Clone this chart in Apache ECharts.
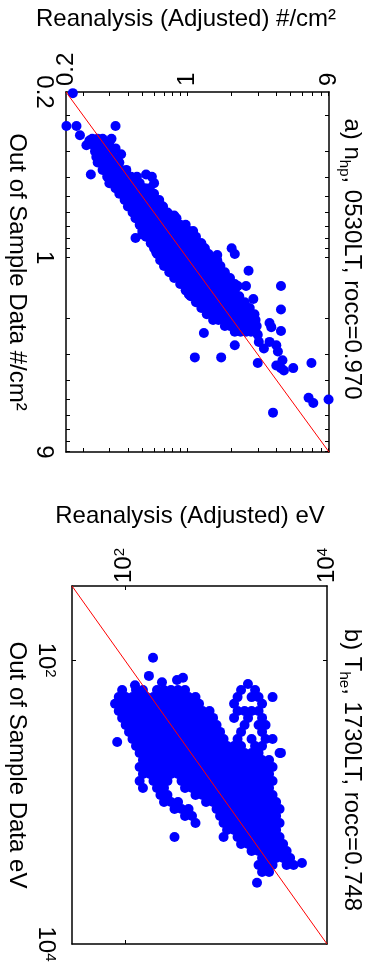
<!DOCTYPE html>
<html>
<head>
<meta charset="utf-8">
<script src="https://cdn.jsdelivr.net/npm/echarts@6/dist/echarts.min.js"></script>
<style>
  html, body { margin: 0; padding: 0; background: #fff; }
  #chart { width: 377px; height: 963px; }
</style>
</head>
<body>
<div id="chart"></div>
<script>
// ---- panel a) n_hp, 0530LT (#/cm^2) ----
const rangeA = [0.153, 9.06];
const labelValsA = [0.153, 1, 9.06];
const labelTextA = ['0.2', '1', '9'];
const tickValsA = [0.2, 0.3, 0.4, 0.5, 0.6, 0.7, 0.8, 0.9, 1, 2, 3, 4, 5, 6, 7, 8, 9];
// dense band, one row per out-of-sample value: [outOfSample, reanalysis...]
const bandA = [
  [0.26, 0.23, 0.25, 0.27],
  [0.28, 0.235, 0.255, 0.28, 0.3],
  [0.30, 0.24, 0.26, 0.285, 0.31],
  [0.32, 0.245, 0.27, 0.295, 0.32],
  [0.34, 0.25, 0.275, 0.3, 0.33, 0.35],
  [0.37, 0.27, 0.3, 0.33, 0.36, 0.39],
  [0.40, 0.29, 0.32, 0.35, 0.38, 0.42, 0.46],
  [0.43, 0.3, 0.33, 0.36, 0.4, 0.44, 0.48],
  [0.455, 0.33, 0.36, 0.4, 0.44, 0.48, 0.52, 0.56],
  [0.485, 0.35, 0.38, 0.42, 0.46, 0.5, 0.55, 0.6],
  [0.52, 0.38, 0.42, 0.46, 0.5, 0.55, 0.6, 0.65],
  [0.56, 0.4, 0.44, 0.48, 0.53, 0.58, 0.63, 0.69],
  [0.60, 0.43, 0.47, 0.52, 0.57, 0.62, 0.68, 0.74],
  [0.64, 0.45, 0.5, 0.55, 0.6, 0.66, 0.72, 0.78, 0.85],
  [0.69, 0.48, 0.53, 0.58, 0.64, 0.7, 0.76, 0.83, 0.9, 0.98],
  [0.74, 0.5, 0.55, 0.6, 0.66, 0.72, 0.79, 0.86, 0.94, 1.03, 1.1],
  [0.79, 0.53, 0.58, 0.64, 0.7, 0.76, 0.83, 0.9, 0.98, 1.07, 1.15],
  [0.85, 0.57, 0.62, 0.68, 0.74, 0.81, 0.88, 0.96, 1.05, 1.15, 1.25],
  [0.90, 0.6, 0.66, 0.72, 0.79, 0.86, 0.94, 1.02, 1.11, 1.21, 1.32],
  [0.96, 0.63, 0.69, 0.75, 0.82, 0.9, 0.98, 1.07, 1.17, 1.28, 1.4],
  [1.03, 0.66, 0.72, 0.79, 0.86, 0.94, 1.03, 1.12, 1.22, 1.34, 1.46, 1.6],
  [1.10, 0.7, 0.77, 0.84, 0.92, 1.0, 1.09, 1.19, 1.3, 1.42, 1.55, 1.68],
  [1.18, 0.76, 0.83, 0.9, 0.98, 1.07, 1.17, 1.27, 1.39, 1.52, 1.65, 1.8],
  [1.26, 0.82, 0.89, 0.97, 1.06, 1.16, 1.26, 1.37, 1.5, 1.63, 1.78, 1.95],
  [1.35, 0.9, 0.98, 1.07, 1.16, 1.27, 1.38, 1.5, 1.63, 1.78, 1.94, 2.1],
  [1.45, 0.98, 1.07, 1.16, 1.27, 1.38, 1.5, 1.63, 1.78, 1.94, 2.1],
  [1.55, 1.06, 1.16, 1.26, 1.37, 1.5, 1.63, 1.78, 1.94, 2.1, 2.25],
  [1.66, 1.15, 1.25, 1.36, 1.48, 1.62, 1.76, 1.92, 2.08, 2.25, 2.45],
  [1.77, 1.25, 1.36, 1.48, 1.61, 1.75, 1.9, 2.07, 2.25, 2.45, 2.65],
  [1.90, 1.36, 1.48, 1.61, 1.75, 1.9, 2.07, 2.25, 2.45, 2.65, 2.85],
  [2.03, 1.5, 1.63, 1.78, 1.94, 2.1, 2.28, 2.48, 2.7, 2.9],
  [2.17, 1.8, 1.95, 2.12, 2.3, 2.5, 2.72, 2.95],
  [2.32, 2.1, 2.3, 2.5, 2.7, 2.9]
];
// scattered points: [reanalysis, outOfSample]
const outA = [
  [0.17, 0.155], [0.154, 0.225], [0.18, 0.225], [0.33, 0.225], [0.19, 0.25],
  [0.22, 0.265], [0.23, 0.27], [0.21, 0.28], [0.31, 0.26], [0.33, 0.29],
  [0.36, 0.31], [0.225, 0.39], [0.53, 0.39], [0.58, 0.40], [0.6, 0.43],
  [0.58, 0.5], [0.66, 0.55], [0.82, 0.62], [0.45, 0.8], [0.5, 0.77],
  [0.62, 0.94], [1.0, 0.77], [1.24, 0.85], [1.6, 0.97], [2.0, 0.9],
  [2.1, 0.96], [2.6, 1.16], [2.2, 1.38], [2.5, 1.38], [2.8, 1.6],
  [4.3, 1.38], [4.3, 1.8], [4.3, 2.3], [3.6, 2.1], [3.7, 2.2],
  [3.0, 2.4], [3.05, 2.6], [3.6, 2.6], [3.3, 2.8], [4.0, 2.7],
  [4.1, 2.9], [1.3, 2.35], [2.1, 2.7], [1.13, 3.1], [1.7, 3.1],
  [3.0, 3.3], [4.0, 3.4], [4.3, 3.5], [4.5, 3.6], [5.2, 3.5],
  [4.4, 3.2], [6.9, 3.3], [6.6, 4.9], [7.1, 5.2], [9.0, 5.0],
  [3.8, 5.8], [0.79, 1.06], [0.9, 1.23], [0.97, 1.33], [1.03, 1.52]
];

// ---- panel b) T_he, 1730LT (eV) ----
const rangeB = [30, 10000];
const labelValsB = [100, 10000];
const labelTextB = ['10{s|2}', '10{s|4}'];
const tickValsB = [100];
const bandB = [
  [162, 94, 129, 151, 208, 244, 286, 336, 394, 1412, 1943],
  [182, 87, 102, 119, 140, 164, 192, 225, 264, 310, 364, 427, 500, 1304, 1794, 2104, 2895],
  [203, 80, 94, 110, 129, 151, 177, 208, 244, 286, 336, 394, 462, 542, 1204, 2279],
  [228, 87, 102, 119, 140, 164, 192, 225, 264, 310, 364, 427, 500, 587, 689, 1304, 1530, 1794, 2104],
  [255, 94, 110, 129, 151, 177, 208, 244, 286, 336, 394, 462, 542, 636, 746, 1204, 1656, 2279],
  [286, 102, 119, 140, 164, 192, 225, 264, 310, 364, 427, 500, 587, 689, 808, 1530, 2104, 2468],
  [320, 110, 129, 151, 177, 208, 244, 286, 336, 394, 462, 542, 636, 746, 875, 1412, 2279],
  [359, 119, 140, 164, 192, 225, 264, 310, 364, 427, 500, 587, 689, 808, 948, 1304, 1794, 2468, 2895],
  [402, 129, 151, 177, 208, 244, 286, 336, 394, 462, 542, 636, 746, 875, 1026, 1204, 1412, 1943, 2279],
  [451, 140, 164, 192, 225, 264, 310, 364, 427, 500, 587, 689, 808, 948, 1112, 1304, 1530, 1794, 2104, 3396],
  [505, 151, 177, 208, 244, 286, 336, 394, 462, 542, 636, 746, 875, 1026, 1204, 1412, 1656, 1943, 2279, 2673],
  [566, 140, 164, 192, 225, 264, 310, 364, 427, 500, 587, 689, 808, 948, 1112, 1304, 1530, 1794, 2104, 2468, 2895],
  [634, 151, 177, 208, 244, 286, 336, 394, 462, 542, 636, 746, 875, 1026, 1204, 1412, 1656, 1943, 2279, 2673],
  [710, 140, 192, 225, 264, 364, 427, 500, 587, 689, 808, 948, 1112, 1304, 1530, 1794, 2104, 2468, 2895],
  [795, 151, 208, 244, 394, 462, 542, 636, 746, 875, 1026, 1204, 1412, 1656, 1943, 2279, 2673],
  [891, 225, 264, 500, 587, 689, 808, 948, 1112, 1304, 1530, 1794, 2104, 2468, 2895],
  [998, 244, 286, 336, 636, 746, 875, 1026, 1204, 1412, 1656, 1943, 2279, 2673, 3136],
  [1118, 310, 364, 427, 808, 948, 1112, 1304, 1530, 1794, 2104, 2468, 2895, 3396],
  [1253, 394, 462, 875, 1026, 1204, 1412, 1656, 1943, 2279, 2673, 3136],
  [1403, 500, 948, 1112, 1304, 1530, 1794, 2104, 2468, 2895, 3396],
  [1572, 1026, 1204, 1412, 1656, 1943, 2279, 2673, 3136],
  [1761, 310, 948, 1304, 1530, 1794, 2104, 2468, 2895, 3396],
  [1973, 1412, 1656, 1943, 2279, 2673, 3136, 3678],
  [2210, 1794, 2104, 2468, 2895, 3396, 3984],
  [2476, 2279, 2673, 3136, 3678, 4314],
  [2774, 2104, 2468, 2895, 3984, 4672],
  [3108, 2279, 2673]
];
const outB = [
  [2030, 3700], [5650, 2690], [190, 96], [84, 377], [3500, 450],
  [173, 129], [233, 143], [328, 138], [376, 133], [126, 150], [1652, 147]
];

const FONT = 'Liberation Sans';

function rowsToPoints(rows) {
  const pts = [];
  rows.forEach(r => {
    for (let i = 1; i < r.length; i++) pts.push([r[i], r[0]]);
  });
  return pts;
}

function pickLabel(v, vals, texts) {
  let best = 0;
  vals.forEach((t, i) => {
    if (Math.abs(Math.log(t / v)) < Math.abs(Math.log(vals[best] / v))) best = i;
  });
  return texts[best];
}

function axis(grid, pos, range, tickVals, labelCfg, inverse) {
  return {
    type: 'log',
    logBase: 10,
    gridIndex: grid,
    position: pos,
    min: range[0],
    max: range[1],
    inverse: inverse,
    axisLine: { show: true, onZero: false, lineStyle: { color: '#000', width: 1.5 } },
    axisTick: { show: true, inside: true, length: 4, customValues: tickVals, lineStyle: { color: '#000', width: 1 } },
    axisLabel: labelCfg || { show: false },
    splitLine: { show: false },
    minorTick: { show: false },
    minorSplitLine: { show: false }
  };
}

function labels(vals, texts, margin) {
  return {
    show: true,
    customValues: vals,
    rotate: -90,
    margin: margin,
    color: '#000',
    fontSize: 24,
    fontFamily: FONT,
    formatter: v => pickLabel(v, vals, texts),
    rich: { s: { fontSize: 15, fontFamily: FONT, color: '#000', verticalAlign: 'top', lineHeight: 24 } }
  };
}

const chart = echarts.init(document.getElementById('chart'), null, { renderer: 'canvas' });

const titleRich = {
  n: { fontSize: 24, fontFamily: FONT, fill: '#000', lineHeight: 30 },
  s: { fontSize: 15, fontFamily: FONT, fill: '#000', lineHeight: 15, verticalAlign: 'bottom' }
};

function vText(x, y, text, rich) {
  return {
    type: 'text', x: x, y: y, rotation: -Math.PI / 2,
    style: { text: text, rich: rich, font: '24px ' + FONT, fill: '#000', align: 'center', verticalAlign: 'middle' }
  };
}

chart.setOption({
  animation: false,
  backgroundColor: '#fff',
  grid: [
    { left: 66, top: 92, width: 263, height: 360, outerBoundsMode: 'none' },
    { left: 72, top: 586, width: 255, height: 358, outerBoundsMode: 'none' }
  ],
  xAxis: [
    axis(0, 'top', rangeA, tickValsA, labels(labelValsA, labelTextA, 6), false),
    axis(0, 'bottom', rangeA, tickValsA, null, false),
    axis(1, 'top', rangeB, tickValsB, labels(labelValsB, labelTextB, 3), false),
    axis(1, 'bottom', rangeB, tickValsB, null, false)
  ],
  yAxis: [
    axis(0, 'left', rangeA, tickValsA, labels(labelValsA, labelTextA, 10), true),
    axis(0, 'right', rangeA, tickValsA, null, true),
    axis(1, 'left', rangeB, tickValsB, labels(labelValsB, labelTextB, 14), true),
    axis(1, 'right', rangeB, tickValsB, null, true)
  ],
  graphic: [
    { type: 'text', x: 186, y: 19, style: { text: 'Reanalysis (Adjusted) #/cm²', font: '24px ' + FONT, fill: '#000', align: 'center', verticalAlign: 'middle' } },
    { type: 'text', x: 190, y: 516, style: { text: 'Reanalysis (Adjusted) eV', font: '24px ' + FONT, fill: '#000', align: 'center', verticalAlign: 'middle' } },
    vText(17, 272, 'Out of Sample Data #/cm²'),
    vText(17, 765, 'Out of Sample Data eV'),
    vText(352, 259, '{n|a) n}{s|hp}{n|, 0530LT, rocc=0.970}', titleRich),
    vText(352, 770, '{n|b) T}{s|he}{n|, 1730LT, rocc=0.748}', titleRich)
  ],
  series: [
    {
      type: 'scatter', xAxisIndex: 0, yAxisIndex: 0, symbolSize: 10, silent: true,
      itemStyle: { color: '#0000ff', opacity: 1 },
      data: rowsToPoints(bandA).concat(outA)
    },
    {
      type: 'line', xAxisIndex: 0, yAxisIndex: 0, symbol: 'none', silent: true, z: 5,
      lineStyle: { color: '#ff0000', width: 1 },
      data: [[rangeA[0], rangeA[0]], [rangeA[1], rangeA[1]]]
    },
    {
      type: 'scatter', xAxisIndex: 2, yAxisIndex: 2, symbolSize: 10, silent: true,
      itemStyle: { color: '#0000ff', opacity: 1 },
      data: rowsToPoints(bandB).concat(outB)
    },
    {
      type: 'line', xAxisIndex: 2, yAxisIndex: 2, symbol: 'none', silent: true, z: 5,
      lineStyle: { color: '#ff0000', width: 1 },
      data: [[rangeB[0], rangeB[0]], [rangeB[1], rangeB[1]]]
    }
  ]
});
</script>
</body>
</html>
